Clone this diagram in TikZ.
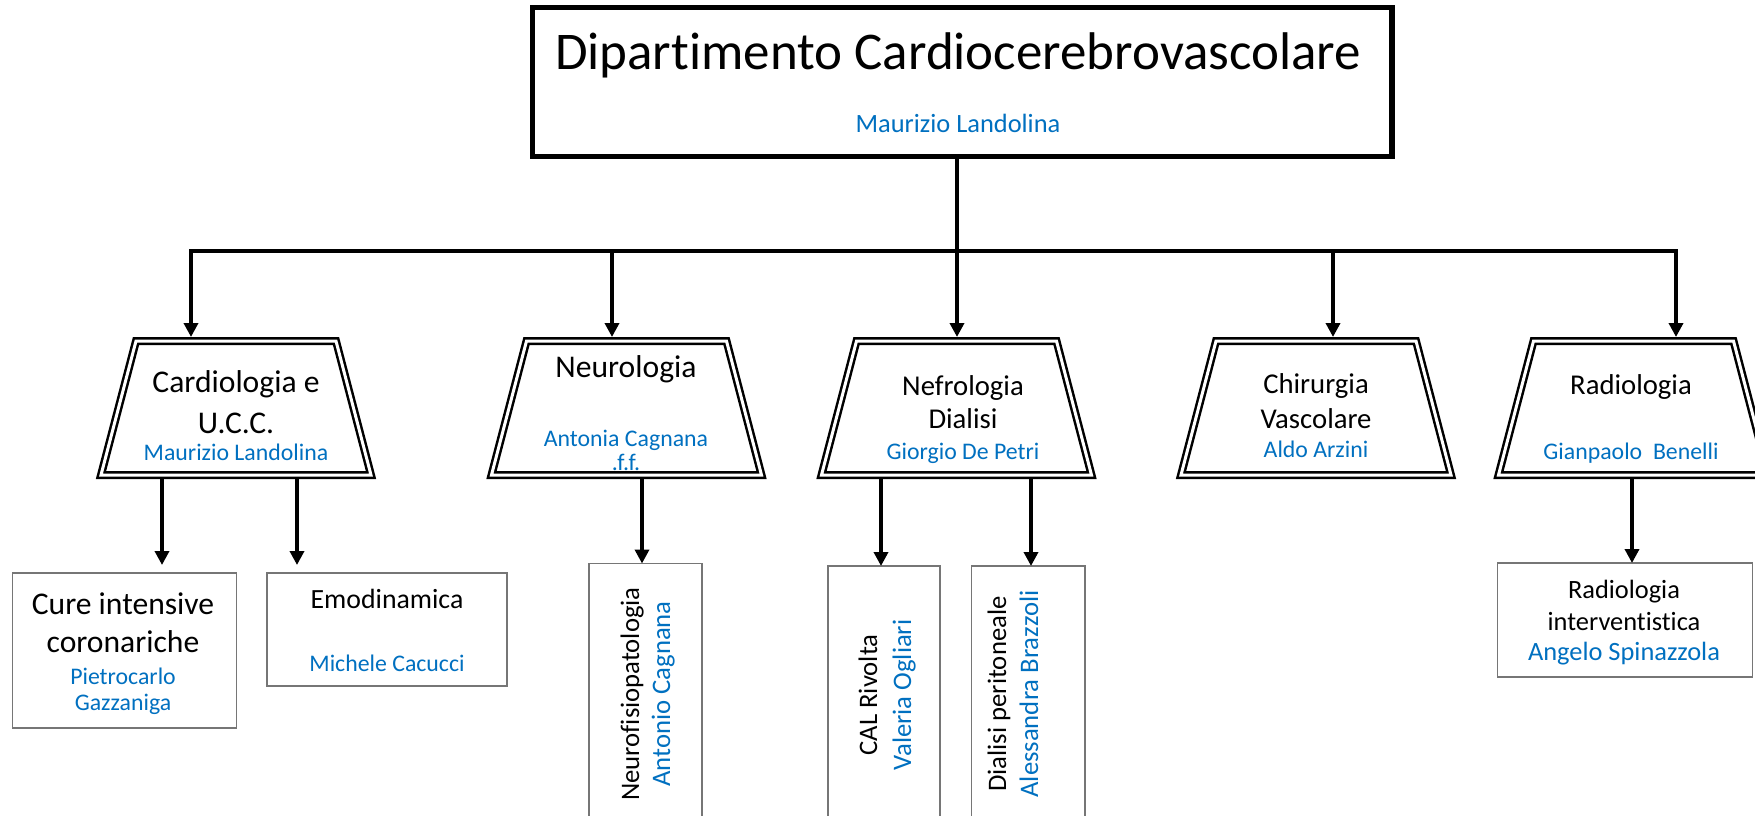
\documentclass[tikz,border=0pt]{standalone}
\usepackage{fontspec}
\setmainfont{Carlito}[Ligatures={NoCommon,NoContextual}]
\usetikzlibrary{arrows.meta,calc}
\definecolor{nameblue}{RGB}{0,112,192}
\definecolor{boxgray}{RGB}{118,118,118}
\newcommand{\nb}{\kern0pt }
\tikzset{
  tz/.style={inner sep=0pt, outer sep=0pt, minimum width=135pt, minimum height=67pt},
  dbl/.style={draw, line width=1.25pt, double=white, double distance=1.5pt, line join=miter},
  chbox/.style={draw=boxgray, line width=0.75pt, inner sep=0pt, outer sep=0pt},
  conn/.style={line width=2pt},
  arr/.style={line width=2pt, -{Triangle[width=7pt,length=7pt]}},
  txt/.style={inner sep=0pt, anchor=base},
  ttl/.style={txt, font=\fontsize{26.5}{32}\selectfont},
  tnm/.style={txt, text=nameblue, font=\fontsize{13.2}{16}\selectfont},
  big/.style={txt, font=\fontsize{15.8}{19}\selectfont},
  mid/.style={txt, font=\fontsize{14.35}{17}\selectfont},
  nm/.style={txt, text=nameblue, font=\fontsize{11.9}{14}\selectfont},
  emo/.style={txt, font=\fontsize{13.9}{17}\selectfont},
  ri/.style={txt, font=\fontsize{13.2}{16}\selectfont},
  rinm/.style={txt, text=nameblue, font=\fontsize{13.2}{16}\selectfont},
  vt/.style={txt, rotate=90, font=\fontsize{13.35}{16}\selectfont},
  vtnm/.style={vt, text=nameblue},
}
\begin{document}
\begin{tikzpicture}[x=0.5pt,y=-0.5pt]
\clip (0,0) rectangle (1755,815);
\fill[white] (0,0) rectangle (1755,815);

% shape anchors
\node[draw, line width=2.75pt, inner sep=0pt, outer sep=0pt, minimum width=429.75pt, minimum height=74.5pt] (top) at (962.25,82) {};
\node[tz] (card)  at (236,408) {};
\node[tz] (neuro) at (626.5,408) {};
\node[tz] (nefro) at (956.5,408) {};
\node[tz] (chir)  at (1316,408) {};
\node[tz] (radio) at (1633.5,408) {};

\node[chbox, minimum width=112pt, minimum height=77.5pt] (cure) at (124.5,650.5) {};
\node[chbox, minimum width=120pt, minimum height=56.5pt] (emod) at (387,629.5) {};
\node[chbox, minimum width=56.5pt, minimum height=130.5pt] (nfp) at (645.5,694) {};
\node[chbox, minimum width=56pt, minimum height=129pt] (cal) at (884,695) {};
\node[chbox, minimum width=56.75pt, minimum height=129pt] (dper) at (1028.25,695) {};
\node[chbox, minimum width=127.5pt, minimum height=57pt] (rint) at (1625,620) {};

% connector coordinates
\coordinate (bus) at (957,251);
\coordinate (b1) at (191,251);
\coordinate (b2) at (612,251);
\coordinate (b3) at (957,251);
\coordinate (b4) at (1333,251);
\coordinate (b5) at (1676,251);
\coordinate (xa) at (162,0);
\coordinate (xb) at (297,0);
\coordinate (xc) at (642,0);
\coordinate (xd) at (881,0);
\coordinate (xe) at (1031,0);
\coordinate (xf) at (1632,0);

\draw[conn] (top.south -| bus) -- (bus);
\draw[conn, line cap=rect] (b1) -- (b5);
\draw[arr, shorten >=2pt] (b1) -- (card.north -| b1);
\draw[arr, shorten >=2pt] (b2) -- (neuro.north -| b2);
\draw[arr, shorten >=2pt] (b3) -- (nefro.north -| b3);
\draw[arr, shorten >=2pt] (b4) -- (chir.north -| b4);
\draw[arr, shorten >=2pt] (b5) -- (radio.north -| b5);

\draw[arr, shorten >=4pt] (card.south -| xa) -- (cure.north -| xa);
\draw[arr, shorten >=4pt] (card.south -| xb) -- (emod.north -| xb);
\draw[arr] (neuro.south -| xc) -- (nfp.north -| xc);
\draw[arr] (nefro.south -| xd) -- (cal.north -| xd);
\draw[arr] (nefro.south -| xe) -- (dper.north -| xe);
\draw[arr] (radio.south -| xf) -- (rint.north -| xf);

% texts
\node[ttl] (ttltxt) at (958,69) {Dipart\nb imento Cardiocerebrovascolare};
\node[tnm] (ttlnm) at (958,132) {Maurizio Landolina};

\node[big] (card1) at (236,392) {Cardiologia e};
\node[big] (card2) at (236,433) {U.C.C.};
\node[nm] (cardnm) at (236,460) {Maurizio Landolina};

\node[big] (neuro1) at (626,377) {Neurologia};
\node[nm] (neuronm) at (626,446) {Antonia Cagnana};

\node[mid] (nefro1) at (963,395) {Nefrologia};
\node[mid] (nefro2) at (963,428) {Dialisi};
\node[nm] (nefronm) at (963,459) {Giorgio De Petri};

\node[mid] (chir1) at (1316,393) {Chirurgia};
\node[mid] (chir2) at (1316,428) {Vascolare};
\node[nm] (chirnm) at (1316,457) {Aldo Arzini};

\node[mid] (radio1) at (1631,394) {Radiologia};
\node[nm] (radionm) at (1631,459) {Gianpaolo\ \ Benelli};

\node[big] (cure1) at (123,614) {Cure intensive};
\node[big] (cure2) at (123,652) {coronariche};
\node[nm] (curenm1) at (123,684) {Pietrocarlo};
\node[nm] (curenm2) at (123,710) {Gazzaniga};

\node[emo] (emod1) at (387,608) {Emodinamica};
\node[nm] (emodnm) at (387,671) {Michele Cacucci};

\node[vt] (nfp1) at (639,694) {Neurof\nb isiopatologia};
\node[vtnm] (nfpnm) at (670,694) {Antonio Cagnana};

\node[vt] (cal1) at (877,695) {CAL Rivolta};
\node[vtnm] (calnm) at (911,695) {Valeria Ogliari};

\node[vt] (dper1) at (1006,694) {Dialisi peritoneale};
\node[vtnm] (dpernm) at (1038,694) {Alessandra Brazzoli};

\node[ri] (rint1) at (1624,598) {Radiologia};
\node[ri] (rint2) at (1624,630) {intervent\nb ist\nb ica};
\node[rinm] (rintnm) at (1624,660) {Angelo Spinazzola};

% trapezoids
\foreach \n in {card,neuro,nefro,chir,radio}{
  \draw[dbl] ([xshift=17.5pt]\n.north west) -- ([xshift=-17.5pt]\n.north east) -- (\n.south east) -- (\n.south west) -- cycle;
}
\node[nm] (neuroff) at (626,470) {.f.f.};
\end{tikzpicture}
\end{document}
